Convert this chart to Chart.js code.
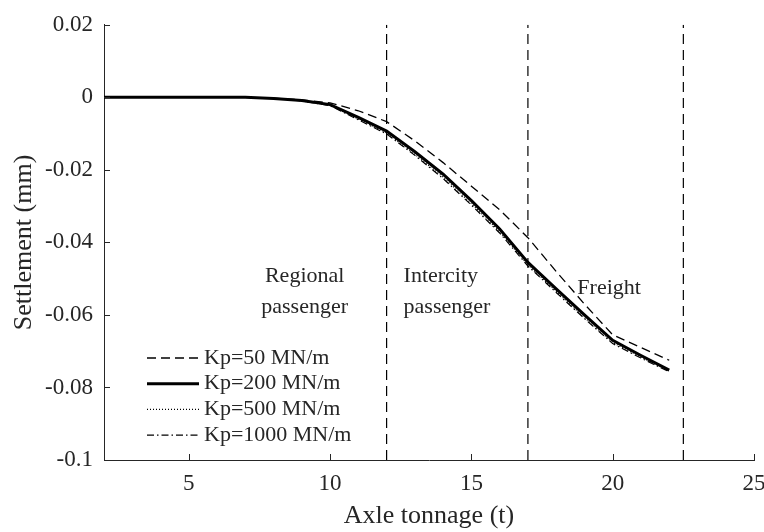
<!DOCTYPE html>
<html>
<head>
<meta charset="utf-8">
<script src="https://cdn.jsdelivr.net/npm/chart.js@4.4.0/dist/chart.umd.min.js"></script>
<style>
  html, body { margin: 0; padding: 0; background: #fff; }
  #wrap { width: 764px; height: 532px; }
</style>
</head>
<body>
<div id="wrap"><canvas id="chart" width="764" height="532"></canvas></div>
<script>
// axle tonnage (t)
const tonnage = [2, 3, 4, 5, 6, 7, 8, 9, 10, 11, 12, 13, 14, 15, 16, 17, 18, 19, 20, 21, 22];

// settlement (mm) per track stiffness
const kp50   = [0, 0, 0, 0, 0, 0, -0.0002, -0.0007, -0.0015, -0.0037, -0.0067, -0.0120, -0.0180, -0.0245, -0.0310, -0.0387, -0.0480, -0.0570, -0.0655, -0.0690, -0.0725];
const kp200  = [0, 0, 0, 0, 0, 0, -0.0003, -0.0009, -0.0020, -0.0055, -0.0093, -0.0150, -0.0212, -0.0285, -0.0363, -0.0455, -0.0528, -0.0600, -0.0670, -0.0712, -0.0752];
const kp500  = [0, 0, 0, 0, 0, 0, -0.0003, -0.0010, -0.0022, -0.0060, -0.0098, -0.0157, -0.0220, -0.0293, -0.0370, -0.0462, -0.0535, -0.0607, -0.0676, -0.0716, -0.0755];
const kp1000 = [0, 0, 0, 0, 0, 0, -0.0003, -0.0010, -0.0023, -0.0062, -0.0101, -0.0160, -0.0224, -0.0297, -0.0374, -0.0465, -0.0538, -0.0610, -0.0679, -0.0719, -0.0757];

// service class boundaries (t)
const boundaries = [12, 17, 22.5];

const xTicks = [5, 10, 15, 20, 25];
const yTicks = [0.02, 0, -0.02, -0.04, -0.06, -0.08, -0.1];
const yTickLabels = ['0.02', '0', '-0.02', '-0.04', '-0.06', '-0.08', '-0.1'];

const FONT = '"Liberation Serif", "Times New Roman", serif';
const INK = '#262626';

function zip(ys) {
    return tonnage.map((x, i) => ({ x, y: ys[i] }));
}

const series = [
    { label: 'Kp=50 MN/m',   data: kp50,   width: 1.3, dash: [9, 5] },
    { label: 'Kp=200 MN/m',  data: kp200,  width: 3,   dash: [] },
    { label: 'Kp=500 MN/m',  data: kp500,  width: 1.2, dash: [1, 2] },
    { label: 'Kp=1000 MN/m', data: kp1000, width: 1.2, dash: [7, 3, 1.5, 3] }
];

const datasets = series.map(s => ({
    label: s.label,
    data: zip(s.data),
    borderColor: '#000',
    borderWidth: s.width,
    borderDash: s.dash,
    pointRadius: 0,
    tension: 0,
    fill: false,
    isSeries: true
}));

boundaries.forEach(b => {
    datasets.push({
        label: 'boundary ' + b,
        data: [{ x: b, y: -0.1 }, { x: b, y: 0.02 }],
        borderColor: '#000',
        borderWidth: 1.2,
        borderDash: [10, 6],
        pointRadius: 0,
        fill: false
    });
});

// region names, placed in data coordinates
const regions = [
    { lines: ['Regional', 'passenger'], x: 9.1, y: -0.0494, align: 'center' },
    { lines: ['Intercity', 'passenger'], x: 12.6, y: -0.0494, align: 'left' },
    { lines: ['Freight'], x: 18.75, y: -0.0527, align: 'left' }
];

const extras = {
    id: 'extras',
    afterDatasetsDraw(chart) {
        const ctx = chart.ctx;
        const xs = chart.scales.x, ys = chart.scales.y;
        const area = chart.chartArea;
        ctx.save();

        // inward ticks
        ctx.strokeStyle = INK;
        ctx.lineWidth = 1;
        ctx.setLineDash([]);
        ctx.beginPath();
        xTicks.forEach(v => {
            const px = Math.round(xs.getPixelForValue(v)) + 0.5;
            ctx.moveTo(px, area.bottom);
            ctx.lineTo(px, area.bottom - 6);
        });
        yTicks.forEach(v => {
            const py = Math.round(ys.getPixelForValue(v)) + 0.5;
            ctx.moveTo(area.left, py);
            ctx.lineTo(area.left + 6, py);
        });
        ctx.stroke();

        // region labels
        ctx.fillStyle = INK;
        ctx.font = '22px ' + FONT;
        ctx.textBaseline = 'middle';
        regions.forEach(r => {
            ctx.textAlign = r.align;
            const px = xs.getPixelForValue(r.x);
            const py = ys.getPixelForValue(r.y);
            r.lines.forEach((t, i) => ctx.fillText(t, px, py + i * 31));
        });

        // legend in lower left of the axes
        ctx.font = '22px ' + FONT;
        ctx.textAlign = 'left';
        const lx = area.left + 43, ly = area.bottom - 102;
        chart.data.datasets.filter(d => d.isSeries).forEach((d, i) => {
            const y = ly + i * 25.7;
            ctx.strokeStyle = '#000';
            ctx.lineWidth = d.borderWidth;
            ctx.setLineDash(d.borderDash);
            ctx.beginPath();
            ctx.moveTo(lx, y);
            ctx.lineTo(lx + 52, y);
            ctx.stroke();
            ctx.fillText(d.label, lx + 57, y);
        });
        ctx.restore();
    }
};

new Chart(document.getElementById('chart'), {
    type: 'line',
    data: { datasets },
    options: {
        responsive: false,
        animation: false,
        layout: { padding: { top: 23, right: 10, left: 0, bottom: 0 } },
        plugins: { legend: { display: false }, tooltip: { enabled: false } },
        scales: {
            x: {
                type: 'linear',
                min: 2,
                max: 25,
                afterBuildTicks: s => { s.ticks = xTicks.map(v => ({ value: v })); },
                afterFit: s => { s.height = 72; s.paddingLeft = 0; s.paddingRight = 0; },
                grid: { display: false, drawTicks: false },
                border: { display: true, color: INK, width: 1 },
                ticks: { color: INK, font: { family: FONT, size: 23 }, padding: 10, maxRotation: 0 },
                title: { display: true, text: 'Axle tonnage (t)', color: INK, font: { family: FONT, size: 26 }, padding: { top: 0, bottom: 0 } }
            },
            y: {
                type: 'linear',
                min: -0.1,
                max: 0.02,
                afterBuildTicks: s => { s.ticks = yTicks.map(v => ({ value: v })); },
                afterFit: s => { s.width = 104; },
                grid: { display: false, drawTicks: false },
                border: { display: true, color: INK, width: 1 },
                ticks: {
                    color: INK,
                    font: { family: FONT, size: 23 },
                    padding: 11,
                    callback: (v) => yTickLabels[yTicks.findIndex(t => Math.abs(t - v) < 1e-9)]
                },
                title: { display: true, text: 'Settlement (mm)', color: INK, font: { family: FONT, size: 26 }, padding: { top: 9, bottom: 0 } }
            }
        }
    },
    plugins: [extras]
});
</script>
</body>
</html>
